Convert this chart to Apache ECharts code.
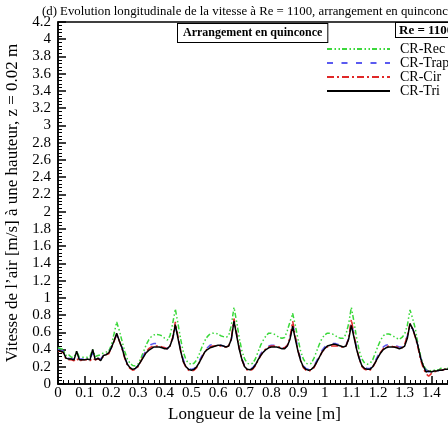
<!DOCTYPE html>
<html>
<head>
<meta charset="utf-8">
<script src="https://cdn.jsdelivr.net/npm/echarts@6/dist/echarts.min.js"></script>
<style>
  html, body { margin: 0; padding: 0; background: #fff; }
  #chart { width: 448px; height: 423px; }
</style>
</head>
<body>
<div id="chart"></div>
<script>
// Sampling positions along the channel [m]
const lengthM = [
  0.00,0.01,0.02,0.03,0.04,0.05,0.06,0.07,0.08,0.09,
  0.10,0.11,0.12,0.13,0.14,0.15,0.16,0.17,0.18,0.19,
  0.20,0.21,0.22,0.23,0.24,0.25,0.26,0.27,0.28,0.29,
  0.30,0.31,0.32,0.33,0.34,0.35,0.36,0.37,0.38,0.39,
  0.40,0.41,0.42,0.43,0.44,0.45,0.46,0.47,0.48,0.49,
  0.50,0.51,0.52,0.53,0.54,0.55,0.56,0.57,0.58,0.59,
  0.60,0.61,0.62,0.63,0.64,0.65,0.66,0.67,0.68,0.69,
  0.70,0.71,0.72,0.73,0.74,0.75,0.76,0.77,0.78,0.79,
  0.80,0.81,0.82,0.83,0.84,0.85,0.86,0.87,0.88,0.89,
  0.90,0.91,0.92,0.93,0.94,0.95,0.96,0.97,0.98,0.99,
  1.00,1.01,1.02,1.03,1.04,1.05,1.06,1.07,1.08,1.09,
  1.10,1.11,1.12,1.13,1.14,1.15,1.16,1.17,1.18,1.19,
  1.20,1.21,1.22,1.23,1.24,1.25,1.26,1.27,1.28,1.29,
  1.30,1.31,1.32,1.33,1.34,1.35,1.36,1.37,1.38,1.39,
  1.40,1.41,1.42,1.43,1.44,1.45,1.46,1.47,1.48
];

// Air velocity [m/s] at z = 0.02 m for each roughness shape
const crRec = [
  0.42,0.41,0.40,0.33,0.34,0.31,0.31,0.38,0.31,0.31,
  0.31,0.31,0.32,0.40,0.32,0.33,0.34,0.36,0.37,0.38,
  0.45,0.58,0.72,0.62,0.50,0.38,0.29,0.24,0.215,0.21,
  0.23,0.29,0.37,0.45,0.51,0.55,0.57,0.575,0.57,0.56,
  0.53,0.51,0.56,0.70,0.87,0.70,0.52,0.37,0.28,0.24,
  0.23,0.24,0.28,0.35,0.43,0.50,0.55,0.58,0.59,0.59,
  0.58,0.56,0.55,0.54,0.56,0.68,0.89,0.72,0.53,0.38,
  0.29,0.24,0.23,0.24,0.29,0.37,0.45,0.51,0.56,0.59,
  0.59,0.58,0.56,0.54,0.53,0.54,0.62,0.72,0.82,0.68,
  0.52,0.38,0.29,0.24,0.23,0.24,0.30,0.38,0.46,0.53,
  0.57,0.59,0.59,0.58,0.56,0.54,0.53,0.53,0.58,0.70,
  0.89,0.72,0.53,0.38,0.29,0.24,0.23,0.24,0.28,0.36,
  0.44,0.51,0.56,0.58,0.58,0.57,0.55,0.53,0.52,0.54,
  0.58,0.68,0.86,0.76,0.64,0.46,0.32,0.22,0.17,0.16,
  0.15,0.16,0.16,0.17,0.19,0.17,0.18,0.19,0.20
];
const crTrap = [
  0.40,0.39,0.38,0.31,0.30,0.29,0.29,0.34,0.29,0.29,
  0.29,0.29,0.29,0.36,0.29,0.30,0.29,0.33,0.35,0.37,
  0.42,0.50,0.57,0.50,0.42,0.32,0.23,0.19,0.17,0.18,
  0.21,0.27,0.33,0.39,0.43,0.46,0.47,0.47,0.46,0.44,
  0.42,0.41,0.44,0.52,0.66,0.55,0.40,0.28,0.21,0.18,
  0.17,0.18,0.21,0.27,0.33,0.38,0.42,0.45,0.46,0.46,
  0.46,0.45,0.44,0.43,0.44,0.52,0.72,0.58,0.42,0.29,
  0.21,0.18,0.17,0.19,0.23,0.29,0.35,0.39,0.42,0.44,
  0.45,0.45,0.44,0.43,0.42,0.42,0.45,0.53,0.70,0.56,
  0.41,0.29,0.21,0.18,0.17,0.18,0.21,0.27,0.33,0.39,
  0.43,0.46,0.47,0.47,0.47,0.46,0.45,0.44,0.45,0.53,
  0.72,0.57,0.42,0.30,0.22,0.19,0.18,0.18,0.21,0.27,
  0.33,0.39,0.43,0.45,0.46,0.46,0.45,0.44,0.43,0.43,
  0.47,0.56,0.66,0.64,0.56,0.44,0.30,0.22,0.16,0.14,
  0.14,0.15,0.15,0.16,0.16,0.17,0.17,0.18,0.19
];
const crCir = [
  0.38,0.38,0.36,0.29,0.28,0.28,0.27,0.30,0.26,0.28,
  0.28,0.28,0.27,0.30,0.28,0.29,0.28,0.32,0.34,0.35,
  0.42,0.49,0.58,0.50,0.41,0.30,0.22,0.18,0.16,0.17,
  0.20,0.26,0.32,0.37,0.41,0.43,0.44,0.44,0.44,0.43,
  0.42,0.41,0.44,0.54,0.72,0.55,0.39,0.26,0.19,0.16,
  0.15,0.16,0.19,0.25,0.31,0.37,0.41,0.43,0.44,0.44,
  0.44,0.44,0.43,0.43,0.44,0.53,0.76,0.58,0.41,0.28,
  0.20,0.16,0.155,0.17,0.21,0.27,0.33,0.38,0.41,0.43,
  0.44,0.44,0.43,0.43,0.42,0.42,0.45,0.54,0.73,0.55,
  0.39,0.27,0.19,0.16,0.15,0.16,0.19,0.25,0.31,0.37,
  0.41,0.43,0.44,0.44,0.44,0.44,0.43,0.43,0.44,0.53,
  0.75,0.57,0.41,0.29,0.20,0.17,0.16,0.16,0.19,0.25,
  0.31,0.37,0.41,0.43,0.44,0.44,0.43,0.43,0.42,0.42,
  0.46,0.56,0.70,0.64,0.54,0.42,0.28,0.18,0.12,0.09,
  0.12,0.14,0.15,0.16,0.16,0.17,0.17,0.18,0.19
];
const crTri = [
  0.39,0.38,0.37,0.30,0.29,0.29,0.28,0.38,0.28,0.28,
  0.28,0.29,0.28,0.40,0.28,0.30,0.27,0.33,0.34,0.36,
  0.42,0.50,0.59,0.50,0.42,0.31,0.23,0.19,0.17,0.18,
  0.21,0.26,0.31,0.36,0.39,0.41,0.43,0.43,0.43,0.42,
  0.41,0.41,0.44,0.53,0.69,0.53,0.38,0.26,0.20,0.17,
  0.16,0.17,0.20,0.25,0.31,0.37,0.40,0.42,0.43,0.44,
  0.45,0.45,0.44,0.43,0.44,0.52,0.73,0.56,0.40,0.28,
  0.20,0.17,0.165,0.18,0.22,0.28,0.33,0.37,0.40,0.42,
  0.43,0.43,0.43,0.42,0.41,0.41,0.44,0.52,0.67,0.52,
  0.38,0.27,0.20,0.17,0.16,0.17,0.20,0.25,0.31,0.37,
  0.41,0.44,0.45,0.46,0.46,0.45,0.44,0.43,0.44,0.52,
  0.68,0.54,0.40,0.29,0.21,0.18,0.17,0.17,0.20,0.25,
  0.31,0.36,0.40,0.42,0.43,0.43,0.43,0.42,0.41,0.42,
  0.44,0.53,0.70,0.64,0.55,0.44,0.30,0.21,0.14,0.15,
  0.14,0.15,0.15,0.16,0.16,0.17,0.17,0.18,0.19
];

const seriesNames = ['CR-Rec', 'CR-Trap', 'CR-Cir', 'CR-Tri'];
const seriesValues = [crRec, crTrap, crCir, crTri];
const seriesColors = ['#3ad83a', '#5a5af0', '#e02828', '#000000'];
const seriesDashes = [[5, 2.5, 1.5, 2.5, 1.5, 2], [6, 8.5], [7, 3, 2, 3], 'solid'];

const FONT = '"Liberation Serif", "DejaVu Serif", serif';

const chart = echarts.init(document.getElementById('chart'), null, { renderer: 'canvas' });

const series = seriesNames.map((name, i) => ({
  name: name,
  type: 'line',
  symbol: 'none',
  showSymbol: false,
  smooth: false,
  data: lengthM.map((x, j) => [x, seriesValues[i][j]]),
  lineStyle: { color: seriesColors[i], width: 1.5, type: seriesDashes[i] },
  itemStyle: { color: seriesColors[i] },
  emphasis: { disabled: true },
  animation: false
}));

chart.setOption({
  backgroundColor: '#ffffff',
  animation: false,
  title: {
    text: '(d) Evolution longitudinale de la vitesse à Re = 1100, arrangement en quinconce',
    left: 37,
    top: 0,
    textStyle: { fontFamily: FONT, fontSize: 12.8, fontWeight: 'normal', color: '#000' }
  },
  legend: {
    data: seriesNames,
    orient: 'vertical',
    left: 326,
    top: 42,
    itemWidth: 63,
    itemHeight: 13.5,
    itemGap: 0,
    padding: 0,
    itemStyle: { opacity: 0 },
    textStyle: { fontFamily: FONT, fontSize: 14, color: '#000', lineHeight: 13.5, padding: [0, 0, 0, 5] }
  },
  grid: {
    left: 58,
    top: 22,
    width: 400,
    height: 362,
    outerBoundsMode: 'none',
    containLabel: false,
    show: true,
    borderColor: '#000',
    borderWidth: 1.5,
    backgroundColor: 'transparent'
  },
  xAxis: {
    type: 'value',
    min: 0,
    max: 1.5,
    interval: 0.1,
    name: 'Longueur de la veine [m]',
    nameLocation: 'middle',
    nameGap: 15,
    nameTextStyle: { fontFamily: FONT, fontSize: 17, color: '#000', padding: [0, 7, 0, 0] },
    axisLine: { show: true, lineStyle: { color: '#000', width: 1.5 } },
    axisTick: { show: true, inside: true, length: 8, lineStyle: { color: '#000', width: 1.5 } },
    minorTick: { show: true, splitNumber: 5, length: 4, lineStyle: { color: '#000', width: 1 } },
    splitLine: { show: false },
    axisLabel: {
      fontFamily: FONT, fontSize: 15, color: '#000', margin: 2,
      formatter: v => (v > 1.45 ? '' : String(+v.toFixed(1)))
    }
  },
  yAxis: {
    type: 'value',
    min: 0,
    max: 4.2,
    interval: 0.2,
    name: 'Vitesse de l\u2019air [m/s] à une hauteur, z = 0.02 m',
    nameLocation: 'middle',
    nameGap: 35,
    nameTextStyle: { fontFamily: FONT, fontSize: 17, color: '#000' },
    axisLine: { show: true, lineStyle: { color: '#000', width: 1.5 } },
    axisTick: { show: true, inside: true, length: 8, lineStyle: { color: '#000', width: 1.5 } },
    minorTick: { show: true, splitNumber: 5, length: 4, lineStyle: { color: '#000', width: 1 } },
    splitLine: { show: false },
    axisLabel: {
      fontFamily: FONT, fontSize: 15, color: '#000', margin: 7,
      formatter: v => String(+v.toFixed(1))
    }
  },
  graphic: [
    {
      type: 'text',
      left: 177,
      top: 23,
      style: {
        text: 'Arrangement en quinconce',
        font: 'bold 12px ' + FONT,
        fill: '#000',
        backgroundColor: '#fff',
        borderColor: '#000',
        borderWidth: 1,
        padding: [3, 5, 3, 5]
      }
    },
    {
      type: 'text',
      left: 395,
      top: 22,
      style: {
        text: 'Re = 1100',
        font: 'bold 13px ' + FONT,
        fill: '#000',
        backgroundColor: '#fff',
        borderColor: '#000',
        borderWidth: 1,
        padding: [1, 3, 0, 3]
      }
    }
  ],
  series: series
});
</script>
</body>
</html>
